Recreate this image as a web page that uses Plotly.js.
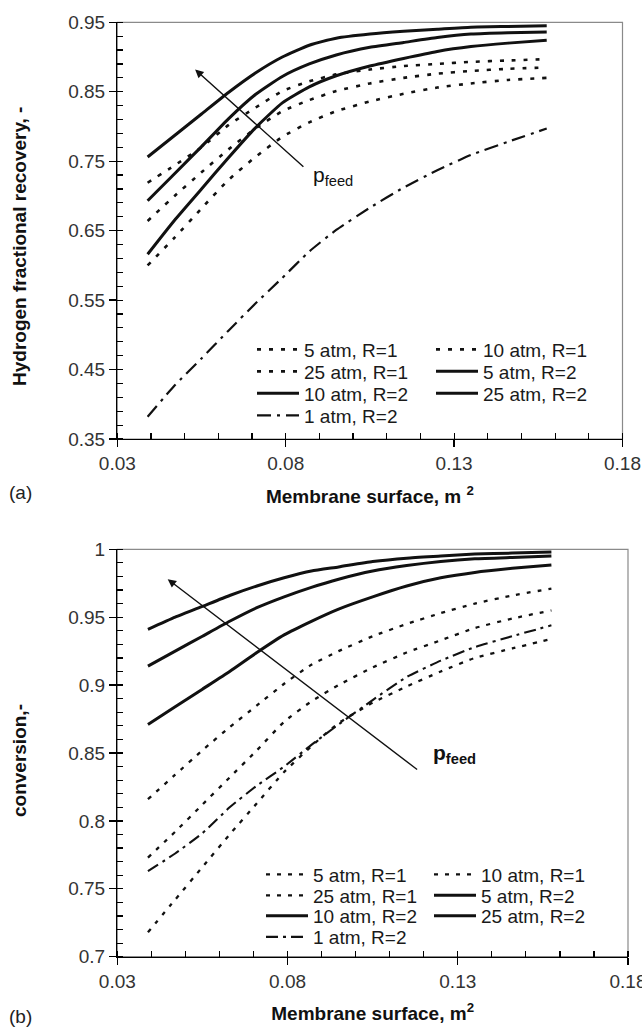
<!DOCTYPE html>
<html><head><meta charset="utf-8">
<script src="https://cdn.plot.ly/plotly-3.0.1.min.js"></script>
<style>html,body{margin:0;padding:0;background:#fff}#chart{width:642px;height:1028px}</style>
</head><body><div id="chart"></div>
<script>
// ---- data ----
const membraneArea = [0.039, 0.047, 0.055, 0.063, 0.071, 0.079, 0.087, 0.095, 0.105, 0.115, 0.125, 0.135, 0.146, 0.1575];

// (a) hydrogen fractional recovery
const rec_5atm_R1  = [0.600, 0.640, 0.682, 0.723, 0.756, 0.785, 0.806, 0.822, 0.836, 0.847, 0.856, 0.862, 0.867, 0.870];
const rec_10atm_R1 = [0.664, 0.700, 0.734, 0.767, 0.797, 0.822, 0.838, 0.851, 0.862, 0.870, 0.876, 0.880, 0.883, 0.885];
const rec_25atm_R1 = [0.719, 0.744, 0.770, 0.802, 0.827, 0.851, 0.865, 0.875, 0.882, 0.887, 0.890, 0.893, 0.895, 0.897];
const rec_5atm_R2  = [0.616, 0.665, 0.710, 0.755, 0.798, 0.834, 0.857, 0.873, 0.887, 0.898, 0.908, 0.915, 0.920, 0.924];
const rec_10atm_R2 = [0.693, 0.732, 0.771, 0.811, 0.846, 0.872, 0.890, 0.903, 0.914, 0.921, 0.928, 0.933, 0.935, 0.936];
const rec_25atm_R2 = [0.756, 0.787, 0.818, 0.849, 0.877, 0.900, 0.917, 0.927, 0.933, 0.937, 0.940, 0.943, 0.944, 0.945];
const rec_1atm_R2  = [0.382, 0.427, 0.466, 0.506, 0.545, 0.582, 0.620, 0.651, 0.683, 0.712, 0.737, 0.759, 0.778, 0.797];

// (b) conversion
const conv_5atm_R1  = [0.718, 0.742, 0.766, 0.790, 0.813, 0.836, 0.855, 0.872, 0.887, 0.899, 0.910, 0.920, 0.927, 0.934];
const conv_10atm_R1 = [0.773, 0.792, 0.812, 0.832, 0.852, 0.873, 0.888, 0.900, 0.913, 0.924, 0.933, 0.942, 0.949, 0.955];
const conv_25atm_R1 = [0.816, 0.834, 0.852, 0.869, 0.885, 0.901, 0.915, 0.925, 0.936, 0.945, 0.953, 0.960, 0.966, 0.971];
const conv_5atm_R2  = [0.871, 0.884, 0.897, 0.910, 0.924, 0.937, 0.947, 0.956, 0.965, 0.973, 0.979, 0.983, 0.986, 0.9885];
const conv_10atm_R2 = [0.914, 0.925, 0.936, 0.947, 0.957, 0.965, 0.972, 0.978, 0.984, 0.988, 0.991, 0.993, 0.994, 0.995];
const conv_25atm_R2 = [0.941, 0.950, 0.958, 0.966, 0.973, 0.979, 0.984, 0.987, 0.991, 0.9935, 0.995, 0.9965, 0.9972, 0.998];
const conv_1atm_R2  = [0.763, 0.776, 0.791, 0.810, 0.826, 0.840, 0.856, 0.871, 0.889, 0.906, 0.918, 0.928, 0.936, 0.944];

// legend order (row-major, two columns)
const seriesNames = ['5 atm, R=1', '10 atm, R=1', '25 atm, R=1', '5 atm, R=2', '10 atm, R=2', '25 atm, R=2', '1 atm, R=2'];
const seriesKind  = ['R1', 'R1', 'R1', 'R2', 'R2', 'R2', 'A1'];
const recoverySeries   = [rec_5atm_R1, rec_10atm_R1, rec_25atm_R1, rec_5atm_R2, rec_10atm_R2, rec_25atm_R2, rec_1atm_R2];
const conversionSeries = [conv_5atm_R1, conv_10atm_R1, conv_25atm_R1, conv_5atm_R2, conv_10atm_R2, conv_25atm_R2, conv_1atm_R2];

// ---- layout helpers ----
const W = 642, H = 1028;
const px = v => v / W;
const py = v => 1 - v / H;
const FONT = 'Liberation Sans, Arial, Helvetica, sans-serif';

const stylesTop = {
  R1: {dash: '4px,8px', width: 2.6},
  R2: {dash: 'solid', width: 3},
  A1: {dash: '14px,6px,3px,6px', width: 2.2}
};
const stylesBot = {
  R1: {dash: '4px,7px', width: 2.3},
  R2: {dash: 'solid', width: 3},
  A1: {dash: '12px,5px,3px,5px', width: 2.1}
};

// legend slot positions in pixels: [left, rowCentre]
const topCols = [252, 431], topRows = [349.5, 371.5, 393.5, 415.5];
const botCols = [261, 429], botRows = [874.5, 895.5, 916.0, 937.0];

const traces = [];
const layout = {
  width: W, height: H,
  margin: {l: 0, r: 0, t: 0, b: 0},
  paper_bgcolor: '#fff', plot_bgcolor: '#fff',
  font: {family: FONT, size: 19, color: '#222'},
  showlegend: true,
  shapes: [], annotations: []
};

function addPanel(seriesList, styles, xa, ya, cols, rows, legendOffset) {
  seriesList.forEach((vals, i) => {
    const legendId = (legendOffset + i) === 1 ? 'legend' : 'legend' + (legendOffset + i);
    const st = styles[seriesKind[i]];
    traces.push({
      type: 'scatter', mode: 'lines',
      x: membraneArea, y: vals,
      name: seriesNames[i],
      xaxis: xa, yaxis: ya,
      legend: legendId,
      line: {color: '#111', width: st.width, dash: st.dash, shape: 'spline', smoothing: 0.5},
      hoverinfo: 'skip'
    });
    const col = i % 2, row = Math.floor(i / 2);
    layout[legendId] = {
      x: px(cols[col]), y: py(rows[row]), xanchor: 'left', yanchor: 'middle',
      xref: 'paper', yref: 'paper',
      bgcolor: 'rgba(0,0,0,0)', borderwidth: 0,
      font: {family: FONT, size: 19, color: '#1a1a1a'},
      itemwidth: 42, orientation: 'v', tracegroupgap: 0
    };
  });
}

addPanel(recoverySeries, stylesTop, 'x', 'y', topCols, topRows, 1);
addPanel(conversionSeries, stylesBot, 'x2', 'y2', botCols, botRows, 8);

function xAxis(domain, anchor, titleText) {
  return {
    domain: domain, anchor: anchor, range: [0.03, 0.18],
    tick0: 0.03, dtick: 0.05, tickformat: '.2f',
    ticks: 'outside', ticklen: 7, tickwidth: 1.3, tickcolor: '#000',
    ticklabeloverflow: 'allow',
    showline: true, linecolor: '#000', linewidth: 1.3,
    showgrid: false, zeroline: false, fixedrange: true,
    minor: {ticks: 'inside', ticklen: 6, tick0: 0.03, dtick: 0.01, tickwidth: 1.2, tickcolor: '#000', showgrid: false},
    tickfont: {family: FONT, size: 19, color: '#333'},
    title: {text: titleText, font: {family: FONT, size: 19, color: '#111'}, standoff: 16}
  };
}
function yAxis(domain, anchor, range, dtick, minorDtick, fmt) {
  return {
    domain: domain, anchor: anchor, range: range,
    tick0: range[0], dtick: dtick, tickformat: fmt,
    ticks: 'outside', ticklen: 7, tickwidth: 1.3, tickcolor: '#000',
    showline: true, linecolor: '#000', linewidth: 1.3,
    showgrid: false, zeroline: false, fixedrange: true,
    minor: {ticks: 'inside', ticklen: 6, tick0: range[0], dtick: minorDtick, tickwidth: 1.2, tickcolor: '#000', showgrid: false},
    tickfont: {family: FONT, size: 19, color: '#333'}
  };
}

layout.xaxis  = xAxis([px(117.3), px(622.5)], 'y',  '<b>Membrane surface, m <sup>2</sup></b>');
layout.yaxis  = yAxis([py(439), py(22.3)], 'x', [0.35, 0.95], 0.1, 0.02, '.2f');
layout.xaxis2 = xAxis([px(117.3), px(628)], 'y2', '<b>Membrane surface, m<sup>2</sup></b>');
layout.yaxis2 = yAxis([py(956.7), py(549.3)], 'x2', [0.7, 1.0], 0.05, 0.01, '');

// grey frame (top / right) of each panel
['', '2'].forEach(s => {
  layout.shapes.push({
    type: 'rect', xref: 'x' + s + ' domain', yref: 'y' + s + ' domain',
    x0: 0, x1: 1, y0: 0, y1: 1, layer: 'below',
    line: {color: '#8a8a8a', width: 1.2}
  });
});

// y-axis titles and panel labels
layout.annotations.push(
  {xref: 'paper', yref: 'paper', x: px(19), y: py(247), text: '<b>Hydrogen fractional recovery, -</b>',
   textangle: -90, showarrow: false, font: {family: FONT, size: 19, color: '#111'}, xanchor: 'center', yanchor: 'middle'},
  {xref: 'paper', yref: 'paper', x: px(19), y: py(761), text: '<b>conversion,-</b>',
   textangle: -90, showarrow: false, font: {family: FONT, size: 19, color: '#111'}, xanchor: 'center', yanchor: 'middle'},
  {xref: 'paper', yref: 'paper', x: px(7), y: py(492), text: '(a)', showarrow: false,
   font: {family: FONT, size: 19, color: '#222'}, xanchor: 'left', yanchor: 'middle'},
  {xref: 'paper', yref: 'paper', x: px(7), y: py(1016), text: '(b)', showarrow: false,
   font: {family: FONT, size: 19, color: '#222'}, xanchor: 'left', yanchor: 'middle'},
  // p_feed arrows
  {xref: 'x', yref: 'y', axref: 'x', ayref: 'y', x: 0.0531, y: 0.882, ax: 0.0857, ay: 0.740,
   text: '', showarrow: true, arrowhead: 2, arrowsize: 1.2, arrowwidth: 1.4, arrowcolor: '#111', standoff: 0, startstandoff: 0},
  {xref: 'x', yref: 'y', x: 0.0876, y: 0.729, text: 'p<sub>feed</sub>', showarrow: false,
   font: {family: FONT, size: 21, color: '#111'}, xanchor: 'left', yanchor: 'middle'},
  {xref: 'x2', yref: 'y2', axref: 'x2', ayref: 'y2', x: 0.0448, y: 0.978, ax: 0.1185, ay: 0.837,
   text: '', showarrow: true, arrowhead: 2, arrowsize: 1.2, arrowwidth: 1.4, arrowcolor: '#111', standoff: 0, startstandoff: 0},
  {xref: 'x2', yref: 'y2', x: 0.1222, y: 0.849, text: '<b>p<sub>feed</sub></b>', showarrow: false,
   font: {family: FONT, size: 21, color: '#111'}, xanchor: 'left', yanchor: 'middle'}
);

Plotly.newPlot('chart', traces, layout, {staticPlot: true, displayModeBar: false});
</script>
</body></html>
